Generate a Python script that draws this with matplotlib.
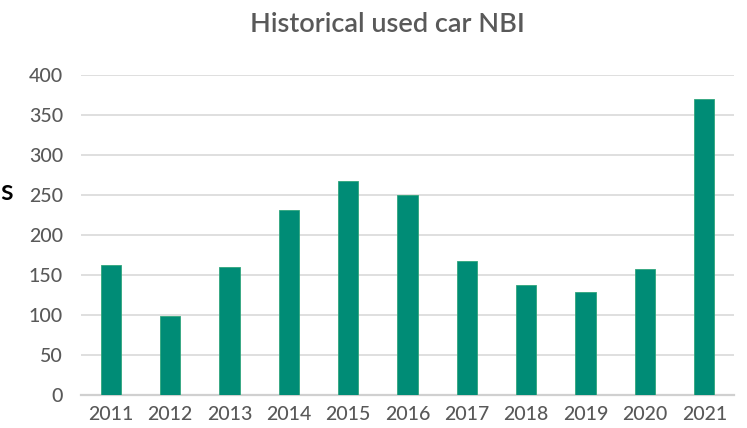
import matplotlib
matplotlib.use("Agg")
import matplotlib.pyplot as plt

years = ["2011", "2012", "2013", "2014", "2015", "2016", "2017", "2018", "2019", "2020", "2021"]
nbi = [163, 99, 160, 231, 267, 250, 168, 137, 129, 158, 370]
y_ticks = [0, 50, 100, 150, 200, 250, 300, 350, 400]

plt.rcParams['font.family'] = ['Lato', 'DejaVu Sans']
plt.rcParams['font.weight'] = 'medium'

fig = plt.figure(figsize=(7.47, 4.28), dpi=100)
ax = fig.add_axes([81/747, 33/428, 653/747, 320/428])

x = list(range(len(years)))
ax.bar(x, nbi, width=0.34, color='#008C76', edgecolor='#2FA57C', linewidth=0.6, zorder=3)

ax.set_xlim(-0.5, len(years) - 0.5)
ax.set_ylim(0, 400)
ax.set_yticks(y_ticks)
ax.set_yticklabels([str(v) for v in y_ticks])
ax.set_xticks(x)
ax.set_xticklabels(years)

ax.yaxis.grid(True, color='#D9D9D9', linewidth=1.2, zorder=0)
ax.set_axisbelow(True)
for side in ['top', 'right', 'left']:
    ax.spines[side].set_visible(False)
ax.spines['bottom'].set_color('#D0D0D0')
ax.spines['bottom'].set_linewidth(1.6)

ax.tick_params(axis='both', length=0, labelsize=14, labelcolor='#595959')
ax.tick_params(axis='y', pad=13)
ax.tick_params(axis='x', pad=8)

fig.text(387/747, 1 - 24/428, "Historical used car NBI", ha='center', va='center',
         fontsize=19.5, color='#595959', fontweight='semibold')
fig.text(0.5/747, 1 - 192/428, "s", ha='left', va='center', fontsize=21,
         color='black', fontweight='semibold')

fig.savefig("out.png", dpi=100)
